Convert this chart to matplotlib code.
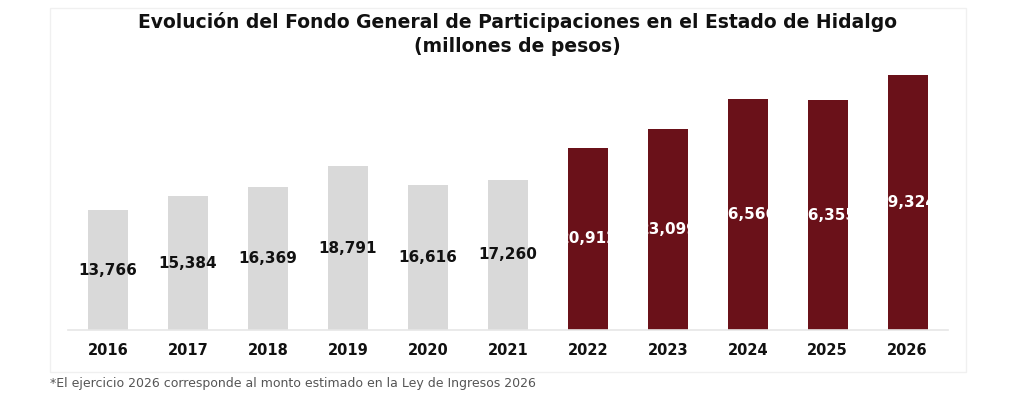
import matplotlib.pyplot as plt
from matplotlib.patches import Rectangle

years = ["2016", "2017", "2018", "2019", "2020", "2021",
         "2022", "2023", "2024", "2025", "2026"]
values = [13766, 15384, 16369, 18791, 16616, 17260,
          20912, 23099, 26566, 26355, 29324]
highlight = [False] * 6 + [True] * 5

gray = "#d9d9d9"
red = "#6a1119"

fig = plt.figure(figsize=(10.24, 4.15), dpi=100)
ax = fig.add_axes([0.0664, 0.2048, 0.859, 0.6506])

x = range(len(years))
colors = [red if h else gray for h in highlight]
bars = ax.bar(x, values, width=0.5, color=colors)

for b, v, h in zip(bars, values, highlight):
    ax.text(b.get_x() + b.get_width() / 2, v / 2, f"{v:,}",
            ha="center", va="center", fontsize=11, fontweight="heavy",
            color="white" if h else "#111111")

ax.set_xlim(-0.5, len(years) - 0.5)
ax.set_ylim(0, 31000)
ax.set_xticks(list(x))
ax.set_xticklabels(years, fontsize=10.5, fontweight="bold", color="#111111")
ax.tick_params(axis="x", length=0, pad=9)
ax.set_yticks([])
for s in ["top", "right", "left"]:
    ax.spines[s].set_visible(False)
ax.spines["bottom"].set_color("#e6e6e6")
ax.spines["bottom"].set_linewidth(1.2)

fig.text(0.505, 0.948, "Evolución del Fondo General de Participaciones en el Estado de Hidalgo",
         ha="center", va="center", fontsize=13.5, fontweight="bold", color="#111111")
fig.text(0.505, 0.889, "(millones de pesos)",
         ha="center", va="center", fontsize=13.5, fontweight="bold", color="#111111")

fig.patches.append(Rectangle((0.049, 0.104), 0.894, 0.877, transform=fig.transFigure,
                             fill=False, edgecolor="#f0f0f0", linewidth=1))

fig.text(0.049, 0.077, "*El ejercicio 2026 corresponde al monto estimado en la Ley de Ingresos 2026",
         ha="left", va="center", fontsize=9, color="#555555")

fig.savefig("out.png", dpi=100)
